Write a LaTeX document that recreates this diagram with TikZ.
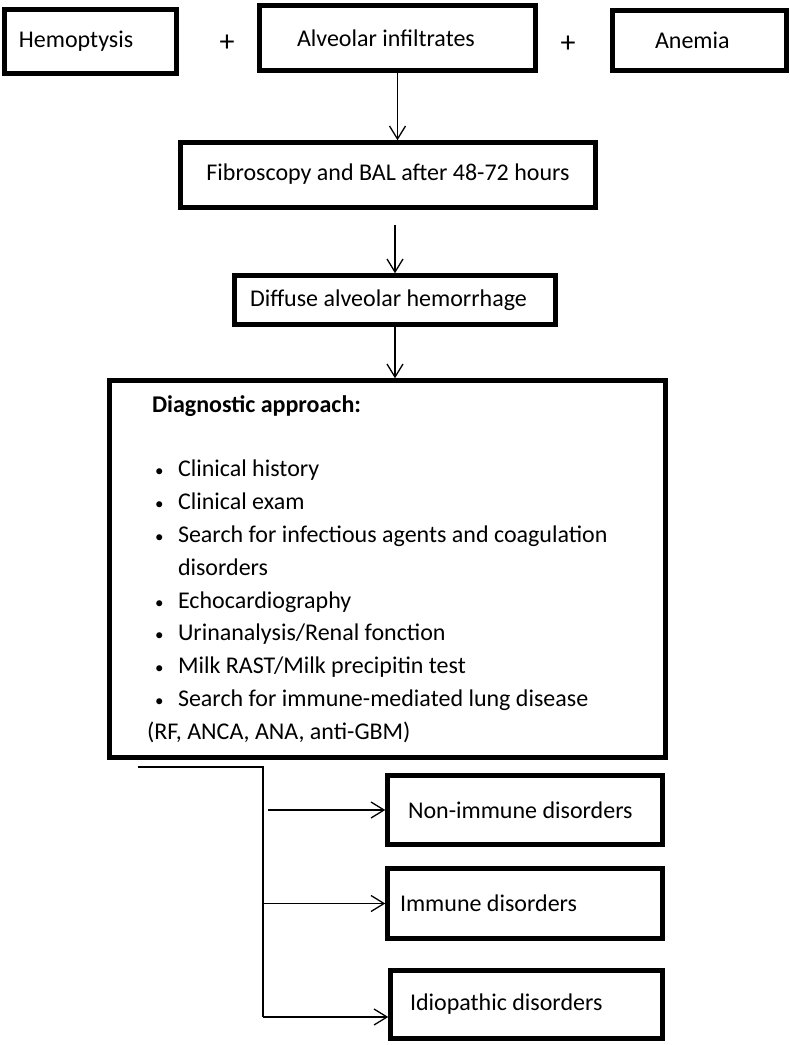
\documentclass[tikz,border=0pt]{standalone}
\usepackage{fontspec}
\setmainfont{Carlito}
\usetikzlibrary{arrows.meta}

\newcommand{\listbul}{\makebox[31pt][l]{\hspace*{8pt}{\fontsize{17}{17}\selectfont\textbullet}}}

\begin{document}
\begin{tikzpicture}[x=1pt,y=-1pt,
    font=\fontsize{24}{32.8}\selectfont,
    box/.style={draw, line width=4.5pt, inner ysep=0pt},
    arr/.style={-{Straight Barb[length=13pt,width=16pt]}, line width=1.3pt}]
  \useasboundingbox (0,0) rectangle (790,1045);

  % signs
  \node[box, minimum height=64, inner xsep=14.5] (hemo) at (90.5,41.5) {\makebox[143pt][l]{Hemoptysis}} ;
  \node[font=\fontsize{30}{30}\selectfont] (plusA) at (227,43) {+} ;
  \node[box, minimum height=65, inner xsep=37.5] (alv) at (397.5,38) {\makebox[201pt][l]{Alveolar infiltrates}} ;
  \node[font=\fontsize{30}{30}\selectfont] (plusB) at (568,44) {+} ;
  \node[box, minimum height=60, inner xsep=42.5] (anem) at (699.5,40.5) {\makebox[89pt][l]{Anemia}} ;

  \node[box, minimum width=415, minimum height=65] (fibro) at (388,175) {\raisebox{5pt}{Fibroscopy and BAL after 48-72 hours}} ;
  \node[box, minimum height=49, inner xsep=15.5] (dah) at (395,300) {\makebox[290pt][l]{Diffuse alveolar hemorrhage}} ;

  % work-up
  \node[box, minimum height=377, inner xsep=37.5, text width=481pt, align=flush left] (diag) at (387.5,569) {%
    \hspace*{5pt}\textbf{Diagnostic approach:}\\[32pt]
    \listbul Clinical history\\
    \listbul Clinical exam\\
    \listbul \mbox{Search for infectious agents and coagulation}\\
    \hspace*{31pt}disorders\\
    \listbul Echocardiography\\
    \listbul Urinanalysis/Renal fonction\\
    \listbul Milk RAST/Milk precipitin test\\
    \listbul Search for immune-mediated lung disease\\
    (RF, ANCA, ANA, anti-GBM)} ;

  % outcomes
  \node[box, minimum height=69, inner xsep=20.5] (nonimm) at (525,810) {\makebox[234pt][l]{Non-immune disorders}} ;
  \node[box, minimum height=70, inner xsep=12.5] (imm) at (525,903.5) {\makebox[250pt][l]{Immune disorders}} ;
  \node[box, minimum height=68, inner xsep=19.5] (idio) at (526.5,1004.5) {\makebox[233pt][l]{Idiopathic disorders}} ;

  \coordinate (fibroout) at (395,225) ;
  \coordinate (forkstart) at (138,767) ;
  \coordinate (fork) at (263,767) ;
  \coordinate (forkend) at (263,1017) ;
  \coordinate (nonimmin) at (268,810) ;

  \draw[arr] (alv.south) -- (alv.south |- fibro.north) ;
  \draw[arr] (fibroout) -- (dah.north) ;
  \draw[arr] (dah.south) -- (dah.south |- diag.north) ;
  \draw[line width=1.3pt] (forkstart) -- (fork) -- (forkend) ;
  \draw[arr] (nonimmin) -- (nonimm.west) ;
  \draw[arr] (fork |- imm.west) -- (imm.west) ;
  \draw[arr] (forkend) -- (forkend -| idio.west) ;
\end{tikzpicture}
\end{document}
